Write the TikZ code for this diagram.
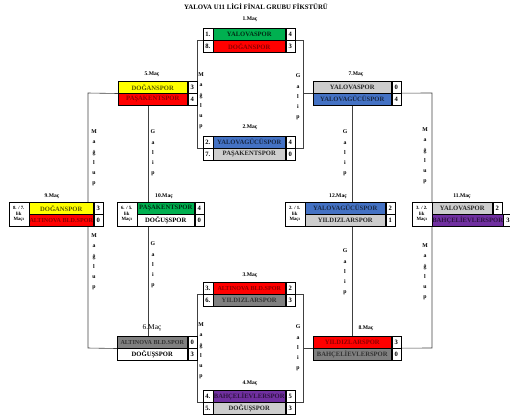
\documentclass[tikz,border=0pt]{standalone}
\usepackage{fontspec}
\setmainfont{Liberation Serif}
\pgfdeclarelayer{bg}
\pgfsetlayers{bg,main}
\definecolor{cgreen}{RGB}{0,176,80}
\definecolor{cred}{RGB}{255,0,0}
\definecolor{cyel}{RGB}{255,255,0}
\definecolor{cblue}{RGB}{68,114,196}
\definecolor{clgray}{RGB}{205,205,205}
\definecolor{cdgray}{RGB}{128,128,128}
\definecolor{cpurp}{RGB}{112,48,160}
\tikzset{
  cellbox/.style={draw=black, line width=0.5pt, inner sep=0pt, minimum height=12pt, anchor=north west,
    font=\fontsize{6.6}{7}\selectfont\bfseries, align=center},
  fgreen/.style={fill=cgreen, text=cgreen!25!black},
  fred/.style={fill=cred, text=cred!55!black},
  fyel/.style={fill=cyel, text=cyel!35!black},
  fblue/.style={fill=cblue, text=cblue!35!black},
  flgray/.style={fill=clgray, text=black!85},
  fdgray/.style={fill=cdgray, text=black!80},
  fpurp/.style={fill=cpurp, text=cpurp!40!black},
  fwhite/.style={fill=white, text=black},
  numcell/.style={cellbox, fill=white, minimum width=10pt, anchor=north east},
  scorecell/.style={cellbox, fill=white, minimum width=9pt},
  likcell/.style={draw=black, line width=0.5pt, fill=white, inner sep=0pt, minimum width=20pt, minimum height=24pt,
    anchor=north east, align=center, font=\fontsize{4.8}{5.6}\selectfont\bfseries},
  lbl/.style={font=\fontsize{5.6}{6}\selectfont\bfseries, inner sep=0pt},
  vtxt/.style={font=\fontsize{5.8}{10.2}\selectfont\bfseries, align=center, inner sep=0pt},
  conn/.style={draw=black!75, line width=0.6pt},
}
\newcommand{\teamrow}[6]{% id, x, y, width, style, text
  \node[cellbox, #5, minimum width=#4pt] (#1) at (#2,#3) {#6};
}
\begin{document}
\begin{tikzpicture}[x=1pt,y=-1pt]
\useasboundingbox (0,0) rectangle (510,416);

\node[font=\fontsize{6.8}{8}\selectfont\bfseries, inner sep=0pt] (title) at (256,7) {YALOVA U11 LİGİ FİNAL GRUBU FİKSTÜRÜ};

% Match 1
\node[lbl] (l1) at (250,19) {1.Maç};
\teamrow{m1a}{213}{28}{72}{fgreen}{YALOVASPOR}
\teamrow{m1b}{213}{40}{72}{fred}{DOĞANSPOR}
\node[numcell] (m1an) at (m1a.north west) {1.};
\node[numcell] (m1bn) at (m1b.north west) {8.};
\node[scorecell] (m1as) at (m1a.north east) {4};
\node[scorecell] (m1bs) at (m1b.north east) {3};
% Match 2
\node[lbl] (l2) at (250,127) {2.Maç};
\teamrow{m2a}{213}{136}{72}{fblue}{YALOVAGÜCÜSPOR}
\teamrow{m2b}{213}{148}{72}{flgray}{PAŞAKENTSPOR}
\node[numcell] (m2an) at (m2a.north west) {2.};
\node[numcell] (m2bn) at (m2b.north west) {7.};
\node[scorecell] (m2as) at (m2a.north east) {4};
\node[scorecell] (m2bs) at (m2b.north east) {0};
% Match 3
\node[lbl] (l3) at (250,275) {3.Maç};
\teamrow{m3a}{213}{282}{72}{fred}{\fontsize{6.1}{7}\selectfont ALTINOVA BLD.SPOR}
\teamrow{m3b}{213}{294}{72}{fdgray}{YILDIZLARSPOR}
\node[numcell] (m3an) at (m3a.north west) {3.};
\node[numcell] (m3bn) at (m3b.north west) {6.};
\node[scorecell] (m3as) at (m3a.north east) {2};
\node[scorecell] (m3bs) at (m3b.north east) {3};
% Match 4
\node[lbl] (l4) at (250,383) {4.Maç};
\teamrow{m4a}{213}{390}{72}{fpurp}{BAHÇELİEVLERSPOR}
\teamrow{m4b}{213}{402}{72}{flgray}{DOĞUŞSPOR}
\node[numcell] (m4an) at (m4a.north west) {4.};
\node[numcell] (m4bn) at (m4b.north west) {5.};
\node[scorecell] (m4as) at (m4a.north east) {5};
\node[scorecell] (m4bs) at (m4b.north east) {3};
% Match 5
\node[lbl] (l5) at (152,74) {5.Maç};
\teamrow{m5a}{118}{81}{69}{fyel}{DOĞANSPOR}
\teamrow{m5b}{118}{93}{69}{fred}{PAŞAKENTSPOR}
\node[scorecell] (m5as) at (m5a.north east) {3};
\node[scorecell] (m5bs) at (m5b.north east) {4};
% Match 7
\node[lbl] (l7) at (356,74) {7.Maç};
\teamrow{m7a}{313}{81}{78}{flgray}{YALOVASPOR}
\teamrow{m7b}{313}{93}{78}{fblue}{YALOVAGÜCÜSPOR}
\node[scorecell] (m7as) at (m7a.north east) {0};
\node[scorecell] (m7bs) at (m7b.north east) {4};
% Match 6
\node[font=\fontsize{7.4}{8}\selectfont, inner sep=0pt] (l6) at (152,328) {6.Maç};
\teamrow{m6a}{117}{336}{70}{fdgray}{\fontsize{6.1}{7}\selectfont ALTINOVA BLD.SPOR}
\teamrow{m6b}{117}{348}{70}{fwhite}{DOĞUŞSPOR}
\node[scorecell] (m6as) at (m6a.north east) {0};
\node[scorecell] (m6bs) at (m6b.north east) {3};
% Match 8
\node[lbl] (l8) at (366,328) {8.Maç};
\teamrow{m8a}{313}{336}{78}{fred}{YILDIZLARSPOR}
\teamrow{m8b}{313}{348}{78}{fdgray}{BAHÇELİEVLERSPOR}
\node[scorecell] (m8as) at (m8a.north east) {3};
\node[scorecell] (m8bs) at (m8b.north east) {0};
% Match 9
\node[lbl] (l9) at (52,196) {9.Maç};
\teamrow{m9a}{29}{202}{64}{fyel}{DOĞANSPOR}
\teamrow{m9b}{29}{214}{64}{fred}{\fontsize{6.1}{7}\selectfont ALTINOVA BLD.SPOR}
\node[likcell] (m9l) at (m9a.north west) {8. / 7.\\lik\\Maçı};
\node[scorecell] (m9as) at (m9a.north east) {3};
\node[scorecell] (m9bs) at (m9b.north east) {0};
% Match 10
\node[lbl] (l10) at (164,196) {10.Maç};
\teamrow{m10a}{137}{202}{57}{fgreen}{PAŞAKENTSPOR}
\teamrow{m10b}{137}{214}{57}{fwhite}{DOĞUŞSPOR}
\node[likcell] (m10l) at (m10a.north west) {6. / 5.\\lik\\Maçı};
\node[scorecell] (m10as) at (m10a.north east) {4};
\node[scorecell] (m10bs) at (m10b.north east) {0};
% Match 12
\node[lbl] (l12) at (338,196) {12.Maç};
\teamrow{m12a}{305}{202}{80}{fblue}{YALOVAGÜCÜSPOR}
\teamrow{m12b}{305}{214}{80}{flgray}{YILDIZLARSPOR}
\node[likcell] (m12l) at (m12a.north west) {2. / 1.\\lik\\Maçı};
\node[scorecell] (m12as) at (m12a.north east) {2};
\node[scorecell] (m12bs) at (m12b.north east) {1};
% Match 11
\node[lbl] (l11) at (462,196) {11.Maç};
\teamrow{m11a}{432}{202}{60}{flgray}{YALOVASPOR}
\teamrow{m11b}{432}{214}{60}{fpurp}{BAHÇELİEVLERSPOR}
\node[likcell] (m11l) at (m11a.north west) {3. / 2.\\lik\\Maçı};
\node[scorecell] (m11as) at (m11a.north east) {2};
\node[scorecell] (m11bs) at (m11b.north east) {3};

% vertical texts
\node[vtxt] (v1) at (201,101) {M\\a\\ğ\\l\\u\\p};
\node[vtxt] (v2) at (298,97) {G\\a\\l\\i\\p};
\node[vtxt] (v3) at (94,158) {M\\a\\ğ\\l\\u\\p};
\node[vtxt] (v4) at (153,153) {G\\a\\l\\i\\p};
\node[vtxt] (v5) at (94,262) {M\\a\\ğ\\l\\u\\p};
\node[vtxt] (v6) at (153,265) {G\\a\\l\\i\\p};
\node[vtxt] (v7) at (425,156) {M\\a\\ğ\\l\\u\\p};
\node[vtxt] (v8) at (425,272) {M\\a\\ğ\\l\\u\\p};
\node[vtxt] (v9) at (345,153) {G\\a\\l\\i\\p};
\node[vtxt] (v10) at (345,272) {G\\a\\l\\i\\p};
\node[vtxt] (v11) at (201,351) {M\\a\\ğ\\l\\u\\p};
\node[vtxt] (v12) at (298,348) {G\\a\\l\\i\\p};

% connector coordinates
\coordinate (r1tl) at (197,40);
\coordinate (r1br) at (303,148);
\coordinate (r2tl) at (197,294);
\coordinate (r2br) at (303,402);
\coordinate (cL1) at (88,93);
\coordinate (cL2) at (88,348);
\coordinate (cR1) at (432,93);
\coordinate (cR2) at (432,348);
\coordinate (gx1) at (148,0);
\coordinate (gx2) at (352,0);

\begin{pgfonlayer}{bg}
\draw[conn] (r1tl) rectangle (r1br);
\draw[conn] (r2tl) rectangle (r2br);
\draw[conn] (m5a.south west) -- (cL1) -- (cL2) -- (m6a.south west);
\draw[conn] (r1br |- m7a.south) -- (cR1) -- (cR2) -- (r2br |- m8a.south);
\draw[conn] (m5b.south -| gx1) -- (m6a.north -| gx1);
\draw[conn] (m7b.south -| gx2) -- (m8a.north -| gx2);
\end{pgfonlayer}
\end{tikzpicture}
\end{document}
